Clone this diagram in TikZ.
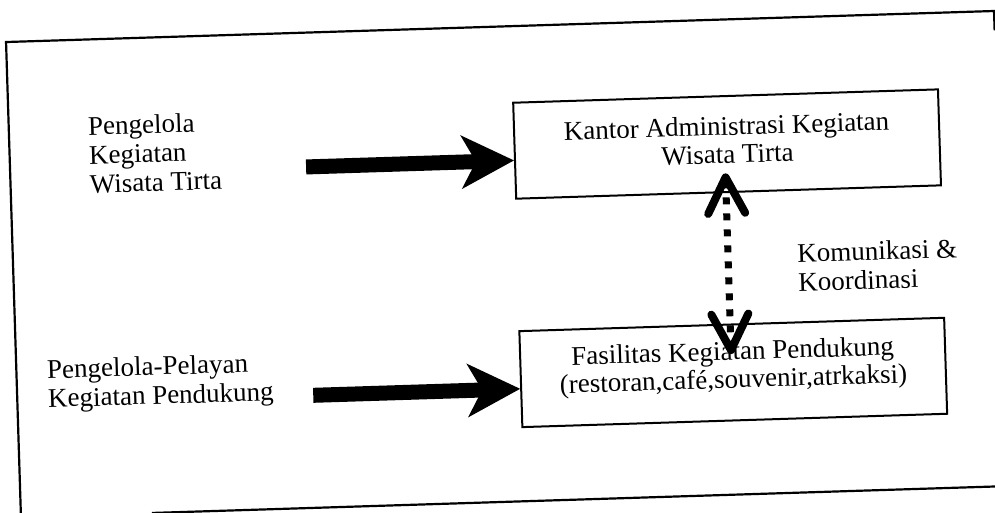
\documentclass[tikz,border=0pt]{standalone}
\usepackage{fontspec}
\setmainfont{Liberation Serif}
\usetikzlibrary{arrows.meta,calc}
\begin{document}
\begin{tikzpicture}[x=0.5pt,y=-0.5pt,
  frameline/.style={line width=1.1pt},
  boxnode/.style={draw,line width=1pt,minimum width=212.5pt,minimum height=48pt,
    inner sep=0pt,align=center,font=\fontsize{13.5pt}{14pt}\selectfont},
  freetext/.style={inner sep=0pt,align=left,anchor=north west,
    font=\fontsize{13.5pt}{14.5pt}\selectfont},
  bigarrow/.style={line width=7.5pt,
    -{Stealth[length=26.5pt,width=27pt,inset=7.5pt,line width=0pt]}},
  barbtip/.style={},
  dotarrow/.style={line width=3.5pt,dash pattern=on 3.5pt off 4.5pt,
    {Straight Barb[length=18pt,width=18.5pt,line width=4pt,round]}-{Straight Barb[length=18pt,width=18.5pt,line width=4pt,round]}}
]
\fill[white] (0,0) rectangle (995,513);
\useasboundingbox (0,0) rectangle (995,513);
\clip (0,0) rectangle (995,513);
\begin{scope}[rotate around={1.8:(497.5,256.5)},transform shape]
  % outer frame
  \draw[frameline] (13,560) -- (13,26.7) -- (1001.5,26.7) -- (1001.5,46);
  \draw[frameline] (144,502) -- (1100,502);

  % boxes
  \node[boxnode] (kantor) at (730.5,151.3)
    {Kantor Administrasi Kegiatan\\Wisata Tirta\rule[-4.35pt]{0pt}{0pt}};
  \node[boxnode] (fasilitas) at (729.5,379.8)
    {Fasilitas Kegiatan Pendukung\\(restoran,café,souvenir,atrkaksi)\rule[-7.85pt]{0pt}{0pt}};

  % free labels
  \node[freetext] (pengelola) at (92,103.3) {Pengelola\\Kegiatan\\Wisata Tirta};
  \node[freetext] (pelayan) at (43.4,345.3) {Pengelola-Pelayan\\Kegiatan Pendukung};
  \node[freetext] (komunikasi) at (797,252.7) {Komunikasi \&\\Koordinasi};

  % thick arrows into the boxes
  \coordinate (ka) at (309,161);
  \coordinate (fa) at (309,389.5);
  \draw[bigarrow] (ka) -- (ka -| kantor.west);
  \draw[bigarrow] (fa) -- (fa -| fasilitas.west);

  % dotted two-way link between the boxes
  \draw[dotarrow] ([xshift=-1.25pt,yshift=9.85pt]kantor.south)
    -- ([xshift=-0.75pt,yshift=-15.3pt]fasilitas.north);
\end{scope}
\end{tikzpicture}
\end{document}
